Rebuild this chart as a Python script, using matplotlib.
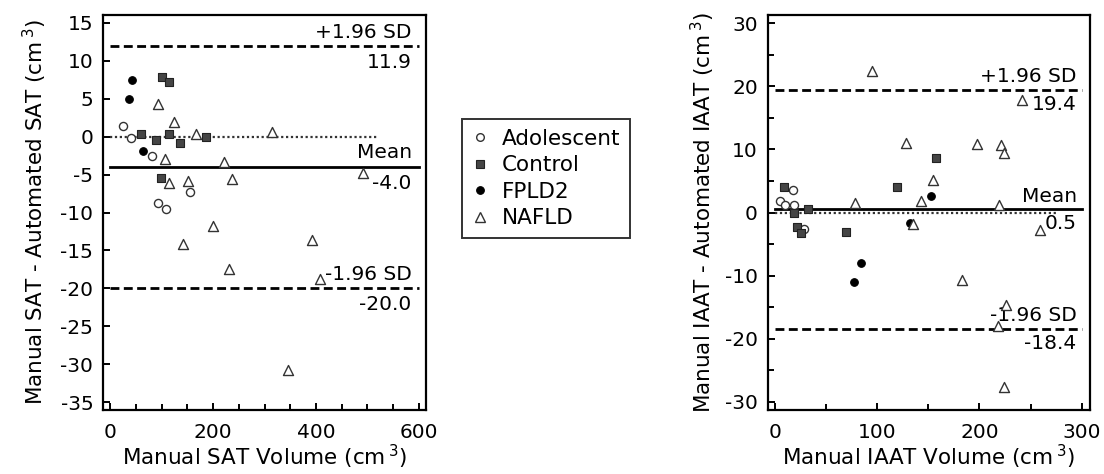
import matplotlib
matplotlib.use("Agg")
import matplotlib.pyplot as plt
from matplotlib.ticker import MultipleLocator
from matplotlib.lines import Line2D

plt.rcParams['font.family'] = ['DejaVu Sans']
plt.rcParams['mathtext.default'] = 'regular'
plt.rcParams['axes.unicode_minus'] = False

# SAT panel: x = manual SAT volume, y = manual - automated
sat_adol_x = [24, 40, 81, 155, 92, 108]
sat_adol_y = [1.4, -0.2, -2.5, -7.3, -8.7, -9.5]
sat_ctrl_x = [100, 115, 60, 89, 114, 135, 187, 98]
sat_ctrl_y = [7.8, 7.2, 0.3, -0.4, 0.4, -0.9, 0.0, -5.5]
sat_fpld_x = [42, 37, 64]
sat_fpld_y = [7.4, 4.9, -1.9]
sat_nafld_x = [93, 124, 166, 315, 106, 221, 115, 152, 237, 492, 200, 141, 392, 231, 408, 346]
sat_nafld_y = [4.3, 1.9, 0.3, 0.6, -2.9, -3.3, -6.1, -5.9, -5.6, -4.8, -11.8, -14.2, -13.6, -17.5, -18.8, -30.7]
sat_mean, sat_upper, sat_lower = -4.0, 11.9, -20.0

# IAAT panel
iaat_adol_x = [18, 5, 10, 19, 28]
iaat_adol_y = [3.5, 1.8, 1.2, 1.2, -2.6]
iaat_ctrl_x = [9, 19, 32, 22, 26, 70, 119, 157]
iaat_ctrl_y = [4.0, 0.0, 0.5, -2.3, -3.2, -3.1, 4.0, 8.6]
iaat_fpld_x = [153, 132, 84, 77]
iaat_fpld_y = [2.6, -1.6, -8.0, -11.0]
iaat_nafld_x = [95, 242, 128, 198, 221, 224, 155, 143, 78, 219, 135, 259, 183, 226, 218, 224]
iaat_nafld_y = [22.5, 17.8, 11.0, 10.9, 10.7, 9.5, 5.1, 1.9, 1.5, 1.2, -1.8, -2.7, -10.7, -14.7, -18.0, -27.6]
iaat_mean, iaat_upper, iaat_lower = 0.5, 19.4, -18.4

FS = 14.5      # ticks and line labels
LFS = 15.5     # axis labels
EDGE = '#333333'


def draw_points(ax, adol, ctrl, fpld, nafld):
    ax.scatter(*adol, s=34, facecolors='white', edgecolors=EDGE, linewidths=1.0, zorder=4)
    ax.scatter(*ctrl, s=30, marker='s', facecolors='#454545', edgecolors='#222222', linewidths=0.8, zorder=4)
    ax.scatter(*fpld, s=30, facecolors='black', edgecolors='black', linewidths=0.8, zorder=4)
    ax.scatter(*nafld, s=52, marker='^', facecolors='white', edgecolors=EDGE, linewidths=1.0, zorder=4)


def draw_limits(ax, x0, x1, dot_end, tx, mean, upper, lower, off_up, off_dn):
    ax.plot([0, dot_end], [0, 0], color='#333333', lw=1.6, ls=(0, (1, 1.2)), zorder=2)
    ax.plot([x0, x1], [mean, mean], color='black', lw=2.0, zorder=3)
    for v in (upper, lower):
        ax.plot([x0, x1], [v, v], color='black', lw=2.0, ls=(0, (3.2, 1.6)), zorder=3)
    ax.text(tx, upper + off_up, '+1.96 SD', ha='right', va='bottom', fontsize=FS)
    ax.text(tx, upper - off_dn, f'{upper:.1f}', ha='right', va='top', fontsize=FS)
    ax.text(tx, mean + off_up, 'Mean', ha='right', va='bottom', fontsize=FS)
    ax.text(tx, mean - off_dn, f'{mean:.1f}', ha='right', va='top', fontsize=FS)
    ax.text(tx, lower + off_up, '-1.96 SD', ha='right', va='bottom', fontsize=FS)
    ax.text(tx, lower - off_dn, f'{lower:.1f}', ha='right', va='top', fontsize=FS)


def style(ax):
    for sp in ax.spines.values():
        sp.set_linewidth(1.6)
    ax.tick_params(which='both', direction='in', labelsize=FS, width=1.4)
    ax.tick_params(which='major', length=5)
    ax.tick_params(which='minor', length=4)
    ax.tick_params(axis='x', pad=9)
    ax.tick_params(axis='y', pad=7)


fig = plt.figure(figsize=(11.04, 4.74), dpi=100)

ax1 = fig.add_axes([0.0933, 0.135, 0.2926, 0.8333])
draw_points(ax1, (sat_adol_x, sat_adol_y), (sat_ctrl_x, sat_ctrl_y),
            (sat_fpld_x, sat_fpld_y), (sat_nafld_x, sat_nafld_y))
draw_limits(ax1, 0, 600, 520, 586, sat_mean, sat_upper, sat_lower, 0.6, 0.9)
ax1.set_xlim(-14, 614)
ax1.set_ylim(-36, 16)
ax1.xaxis.set_major_locator(MultipleLocator(200))
ax1.xaxis.set_minor_locator(MultipleLocator(50))
ax1.yaxis.set_major_locator(MultipleLocator(5))
ax1.set_xlabel(r'Manual SAT Volume (cm$\,^{3}$)', fontsize=LFS, labelpad=1)
ax1.set_ylabel(r'Manual SAT - Automated SAT (cm$\,^{3}$)', fontsize=LFS, labelpad=8)
style(ax1)

ax2 = fig.add_axes([0.6954, 0.135, 0.2919, 0.8333])
draw_points(ax2, (iaat_adol_x, iaat_adol_y), (iaat_ctrl_x, iaat_ctrl_y),
            (iaat_fpld_x, iaat_fpld_y), (iaat_nafld_x, iaat_nafld_y))
draw_limits(ax2, 0, 300, 276, 295, iaat_mean, iaat_upper, iaat_lower, 0.6, 0.8)
ax2.set_xlim(-7, 308)
ax2.set_ylim(-31.3, 31.3)
ax2.xaxis.set_major_locator(MultipleLocator(100))
ax2.xaxis.set_minor_locator(MultipleLocator(50))
ax2.yaxis.set_major_locator(MultipleLocator(10))
ax2.yaxis.set_minor_locator(MultipleLocator(5))
ax2.set_xlabel(r'Manual IAAT Volume (cm$\,^{3}$)', fontsize=LFS, labelpad=1)
ax2.set_ylabel(r'Manual IAAT - Automated IAAT (cm$\,^{3}$)', fontsize=LFS, labelpad=6)
style(ax2)

handles = [
    Line2D([], [], ls='none', marker='o', ms=5.5, mfc='white', mec=EDGE, mew=1.0),
    Line2D([], [], ls='none', marker='s', ms=5.5, mfc='#454545', mec='#222222', mew=0.8),
    Line2D([], [], ls='none', marker='o', ms=5.5, mfc='black', mec='black', mew=0.8),
    Line2D([], [], ls='none', marker='^', ms=7, mfc='white', mec=EDGE, mew=1.0),
]
leg = fig.legend(handles, ['Adolescent', 'Control', 'FPLD2', 'NAFLD'],
                 loc='upper left', bbox_to_anchor=(462 / 1104, 1 - 119 / 474),
                 fontsize=15.5, frameon=True, fancybox=False, edgecolor='black',
                 handlelength=0.8, handletextpad=0.6, labelspacing=0.3,
                 borderpad=0.45, borderaxespad=0)
leg.get_frame().set_linewidth(1.4)

fig.savefig('out.png', dpi=100)
